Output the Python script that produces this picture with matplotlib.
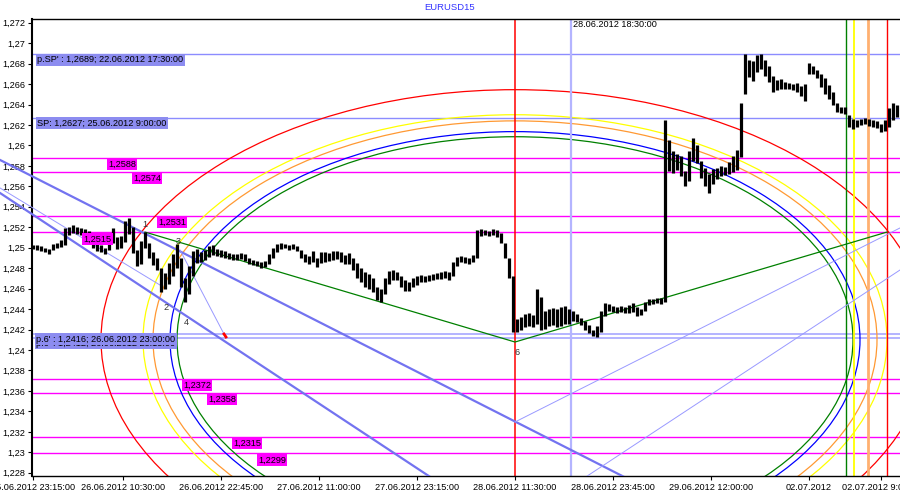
import matplotlib
matplotlib.use('Agg')
import matplotlib.pyplot as plt
import matplotlib.transforms as mtransforms
from matplotlib.patches import Ellipse

plt.rcParams['font.family'] = ['Liberation Sans', 'DejaVu Sans']

# EURUSD M15, one high/low pair every 2 bars (x = bar index, 0 = 25.06.2012 23:15)
bar_x = list(range(0, 434, 2))
hi = [
    1.2503, 1.2503, 1.2502, 1.2500, 1.2499, 1.2504, 1.2505, 1.2508, 1.2519, 1.2520,
    1.2522, 1.2520, 1.2519, 1.2518, 1.2516, 1.2510, 1.2505, 1.2503, 1.2500, 1.2512,
    1.2519, 1.2510, 1.2511, 1.2526, 1.2529, 1.2520, 1.2498, 1.2507, 1.2515, 1.2505,
    1.2496, 1.2490, 1.2480, 1.2475, 1.2485, 1.2494, 1.2504, 1.2490, 1.2470, 1.2482,
    1.2497, 1.2499, 1.2496, 1.2498, 1.2502, 1.2503, 1.2499, 1.2498, 1.2497, 1.2495,
    1.2494, 1.2494, 1.2495, 1.2494, 1.2490, 1.2488, 1.2487, 1.2486, 1.2487, 1.2494,
    1.2500, 1.2504, 1.2505, 1.2504, 1.2503, 1.2504, 1.2502, 1.2498, 1.2494, 1.2492,
    1.2497, 1.2490, 1.2496, 1.2496, 1.2495, 1.2497, 1.2497, 1.2496, 1.2493, 1.2495,
    1.2490, 1.2485, 1.2480, 1.2476, 1.2474, 1.2470, 1.2462, 1.2460, 1.2470, 1.2477,
    1.2478, 1.2476, 1.2472, 1.2468, 1.2466, 1.2470, 1.2472, 1.2473, 1.2472, 1.2473,
    1.2474, 1.2475, 1.2476, 1.2477, 1.2476, 1.2486, 1.2491, 1.2492, 1.2491, 1.2490,
    1.2493, 1.2517, 1.2518, 1.2517, 1.2516, 1.2518, 1.2517, 1.2514, 1.2505, 1.2490,
    1.2472, 1.2430, 1.2432, 1.2435, 1.2436, 1.2434, 1.2460, 1.2452, 1.2438, 1.2440,
    1.2441, 1.2440, 1.2442, 1.2443, 1.2440, 1.2438, 1.2435, 1.2431, 1.2428, 1.2424,
    1.2420, 1.2423, 1.2438, 1.2446, 1.2445, 1.2443, 1.2442, 1.2443, 1.2442, 1.2444,
    1.2446, 1.2442, 1.2440, 1.2447, 1.2450, 1.2450, 1.2451, 1.2451, 1.2625, 1.2605,
    1.2595, 1.2592, 1.2590, 1.2575, 1.2595, 1.2607, 1.2600, 1.2585, 1.2578, 1.2572,
    1.2577, 1.2578, 1.2580, 1.2579, 1.2584, 1.2590, 1.2596, 1.2641, 1.2689, 1.2684,
    1.2683, 1.2688, 1.2689, 1.2684, 1.2678, 1.2668, 1.2664, 1.2665, 1.2662, 1.2661,
    1.2660, 1.2661, 1.2658, 1.2660, 1.2681, 1.2678, 1.2674, 1.2670, 1.2666, 1.2659,
    1.2652, 1.2641, 1.2638, 1.2638, 1.2630, 1.2626, 1.2625, 1.2626, 1.2627, 1.2626,
    1.2625, 1.2624, 1.2621, 1.2625, 1.2637, 1.2641, 1.2640,
]
lo = [
    1.2499, 1.2498, 1.2497, 1.2496, 1.2494, 1.2498, 1.2500, 1.2501, 1.2503, 1.2512,
    1.2514, 1.2513, 1.2512, 1.2511, 1.2508, 1.2500, 1.2497, 1.2496, 1.2494, 1.2498,
    1.2505, 1.2499, 1.2500, 1.2506, 1.2513, 1.2495, 1.2482, 1.2484, 1.2500, 1.2490,
    1.2483, 1.2478, 1.2457, 1.2460, 1.2465, 1.2472, 1.2480, 1.2462, 1.2447, 1.2455,
    1.2472, 1.2485, 1.2486, 1.2488, 1.2491, 1.2493, 1.2492, 1.2491, 1.2490, 1.2489,
    1.2488, 1.2488, 1.2489, 1.2487, 1.2484, 1.2483, 1.2482, 1.2480, 1.2481, 1.2484,
    1.2490, 1.2496, 1.2499, 1.2500, 1.2498, 1.2499, 1.2497, 1.2490, 1.2486, 1.2484,
    1.2486, 1.2481, 1.2485, 1.2486, 1.2487, 1.2488, 1.2489, 1.2486, 1.2484, 1.2484,
    1.2478, 1.2470, 1.2466, 1.2462, 1.2460, 1.2457, 1.2449, 1.2447, 1.2455, 1.2465,
    1.2468, 1.2468, 1.2462, 1.2458, 1.2458, 1.2462, 1.2464, 1.2466, 1.2466, 1.2467,
    1.2468, 1.2469, 1.2469, 1.2470, 1.2468, 1.2472, 1.2482, 1.2486, 1.2485, 1.2484,
    1.2486, 1.2490, 1.2511, 1.2512, 1.2511, 1.2512, 1.2510, 1.2505, 1.2490, 1.2470,
    1.2418, 1.2418, 1.2420, 1.2422, 1.2423, 1.2422, 1.2425, 1.2420, 1.2421, 1.2423,
    1.2424, 1.2422, 1.2423, 1.2425, 1.2425, 1.2428, 1.2427, 1.2424, 1.2420, 1.2417,
    1.2414, 1.2413, 1.2418, 1.2433, 1.2438, 1.2437, 1.2436, 1.2437, 1.2436, 1.2436,
    1.2437, 1.2433, 1.2434, 1.2438, 1.2444, 1.2445, 1.2446, 1.2445, 1.2447, 1.2575,
    1.2573, 1.2576, 1.2570, 1.2560, 1.2565, 1.2585, 1.2583, 1.2568, 1.2560, 1.2553,
    1.2562, 1.2567, 1.2570, 1.2571, 1.2572, 1.2574, 1.2576, 1.2589, 1.2650, 1.2667,
    1.2663, 1.2672, 1.2675, 1.2668, 1.2662, 1.2652, 1.2654, 1.2655, 1.2655, 1.2655,
    1.2654, 1.2652, 1.2648, 1.2643, 1.2670, 1.2670, 1.2666, 1.2657, 1.2650, 1.2645,
    1.2640, 1.2633, 1.2632, 1.2631, 1.2618, 1.2616, 1.2618, 1.2620, 1.2621, 1.2619,
    1.2618, 1.2617, 1.2613, 1.2614, 1.2618, 1.2625, 1.2628,
]

# horizontal levels
sp_levels = [1.2689, 1.2627]
sp_texts = ["p.SP' : 1,2689; 22.06.2012 17:30:00", "SP: 1,2627; 25.06.2012 9:00:00"]
p6_levels = [1.2416, 1.2412]
p6_texts = ["p.6' : 1,2416; 26.06.2012 23:00:00", "p.6' : 1,2412; 26.06.2012 23:15:00"]
mag_levels = [1.2588, 1.2574, 1.2531, 1.2515, 1.2372, 1.2358, 1.2315, 1.2299]
mag_texts = ['1,2588', '1,2574', '1,2531', '1,2515', '1,2372', '1,2358', '1,2315', '1,2299']
mag_label_x = [37.5, 50, 62.5, 25, 75, 87.5, 100, 112.5]

# vertical lines (bar index)
vline_x = [241, 269, 406.5, 410.5, 417.5, 427]
vline_colors = ['#ff0000', '#b4b4ff', '#008000', '#ffff00', '#ffb070', '#ff0000']
vline_widths = [1.1, 1.6, 1.0, 1.3, 2.0, 1.0]

# ellipses around point 6
ell_center = (241, 1.2410)
ell_widths = [414, 372, 362, 345, 338]
ell_heights = [0.0489, 0.0440, 0.0428, 0.0407, 0.0397]
ell_colors = ['#ff0000', '#ffff00', '#ff9933', '#0000ff', '#008000']

# trend lines: (x0, y0, x1, y1)
thick_lines = [(-16.5, 1.25858, 433.5, 1.21389), (-16.5, 1.25535, 433.5, 1.19727)]
thin_lines = [(-16.5, 1.25584, 63.5, 1.24635), (73.5, 1.24978, 95.5, 1.24156),
              (241, 1.23296, 433.5, 1.25193), (253.5, 1.22464, 433.5, 1.24782)]
zigzag_x = [56, 241, 427]
zigzag_y = [1.25153, 1.24078, 1.25153]

point_names = ['1', '2', '3', '4', '6']
point_x = [56, 66.5, 72.5, 76.5, 242]
point_y = [1.2523, 1.2442, 1.2506, 1.2427, 1.2398]

xtick_pos = [0, 45, 94, 143, 192, 241, 290, 339, 388, 424]
xtick_labels = ['25.06.2012 23:15:00', '26.06.2012 10:30:00', '26.06.2012 22:45:00',
                '27.06.2012 11:00:00', '27.06.2012 23:15:00', '28.06.2012 11:30:00',
                '28.06.2012 23:45:00', '29.06.2012 12:00:00', '02.07.2012',
                '02.07.2012 9:00:00']
ytick_vals = [1.228 + 0.002 * i for i in range(23)]

fig = plt.figure(figsize=(9, 4.94), dpi=100)
ax = fig.add_axes([32 / 900, 18 / 494, 868 / 900, 457 / 494])
ax.set_xlim(-0.5, 433.5)
ax.set_ylim(1.22768, 1.27236)

# trend lines run over the price scale up to the window edge
wide_clip = mtransforms.TransformedBbox(
    mtransforms.Bbox([[0, 18 / 494], [1, 475 / 494]]), fig.transFigure)

for e_w, e_h, col in zip(ell_widths, ell_heights, ell_colors):
    ax.add_patch(Ellipse(ell_center, e_w, e_h, fill=False, edgecolor=col, lw=0.9, zorder=2))

for lv in mag_levels:
    ax.axhline(lv, color='#ff00ff', lw=1.0, zorder=1)
for lv in sp_levels:
    ax.axhline(lv, color='#8c8cff', lw=1.0, zorder=1)
for lv in p6_levels:
    ax.axhline(lv, color='#b4b4ff', lw=1.4, zorder=1)

for xv, col, w in zip(vline_x, vline_colors, vline_widths):
    ax.axvline(xv, color=col, lw=w, zorder=2)

for i, (x0, y0, x1, y1) in enumerate(thick_lines):
    ln, = ax.plot([x0, x1], [y0, y1], color='#7373f0', lw=1.6, zorder=3)
    ln.set_clip_box(wide_clip)
for i, (x0, y0, x1, y1) in enumerate(thin_lines):
    ln, = ax.plot([x0, x1], [y0, y1], color='#9999ff', lw=0.7, zorder=3)
    if i == 0:
        ln.set_clip_box(wide_clip)
ax.plot(zigzag_x, zigzag_y, color='#008000', lw=0.9, zorder=3)
ax.plot([95.5, 96.5], [1.24156, 1.24127], color='#ff0000', lw=2.0, zorder=4)

# price bars
ax.vlines(bar_x, lo, hi, color='black', lw=2.3, zorder=5)

# labels on levels
for lv, txt, lx in zip(mag_levels, mag_texts, mag_label_x):
    ax.text(lx, lv - 0.0002, txt, fontsize=6.6, va='top', ha='left', zorder=6,
            bbox=dict(boxstyle='square,pad=0.15', fc='#ff00ff', ec='none'))
for lv, txt in zip(sp_levels, sp_texts):
    ax.text(2, lv - 0.0001, txt, fontsize=6.6, va='top', ha='left', zorder=6,
            bbox=dict(boxstyle='square,pad=0.15', fc='#8c8cf0', ec='none'))
for lv, txt in zip(p6_levels[::-1], p6_texts[::-1]):
    ax.text(1.5, lv - 0.0001, txt, fontsize=6.6, va='top', ha='left', zorder=6,
            bbox=dict(boxstyle='square,pad=0.15', fc='#8c8cf0', ec='none'))

for nm, px_, py_ in zip(point_names, point_x, point_y):
    ax.text(px_, py_, nm, fontsize=6.6, color='#333333', ha='center', va='center', zorder=6)

trans = mtransforms.blended_transform_factory(ax.transData, ax.transAxes)
ax.text(vline_x[1] + 1, 0.997, '28.06.2012 18:30:00', transform=trans, fontsize=6.6,
        va='top', ha='left')

fig.text(0.5, 1 - 8 / 494, 'EURUSD15', color='#3333ff', ha='center', va='center', fontsize=6.8)

ax.set_xticks(xtick_pos)
ax.set_xticklabels(xtick_labels, fontsize=6.6)
ax.set_yticks(ytick_vals)
ax.set_yticklabels([f'{v:.3f}'.rstrip('0').rstrip('.').replace('.', ',') for v in ytick_vals],
                   fontsize=6.6)
ax.tick_params(axis='both', length=3, width=0.8, pad=2)
ax.spines['right'].set_visible(False)
ax.spines['left'].set_linewidth(1.5)
ax.spines['top'].set_linewidth(1.0)
ax.spines['bottom'].set_linewidth(1.0)

fig.savefig('out.png', dpi=100)
